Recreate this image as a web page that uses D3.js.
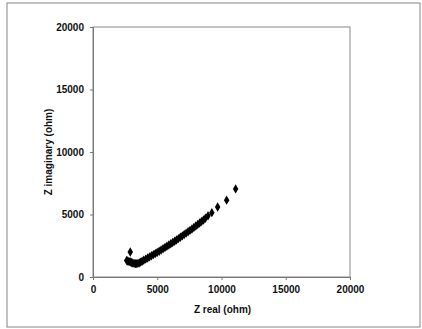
<!DOCTYPE html>
<html>
<head>
<meta charset="utf-8">
<script src="https://d3js.org/d3.v7.min.js"></script>
<style>
  body { margin: 0; background: #fff; }
  text { font-family: "Liberation Sans", Arial, sans-serif; font-weight: bold; fill: #111; }
</style>
</head>
<body>
<svg></svg>
<script>
// impedance data (ohm)
var zReal = [11100, 10400, 9700, 9250, 8950, 8750, 8600, 8450, 8300, 8150, 8000, 7850, 7700, 7550, 7400,
             7250, 7100, 6950, 6800, 6650, 6500, 6350, 6200, 6050, 5900, 5750, 5600, 5450, 5300, 5150,
             5000, 4850, 4700, 4550, 4400, 4250, 4100, 3950, 3820, 3700, 3600, 3500, 3400, 3300, 3200,
             3100, 3000, 2900, 2800, 2700, 2620, 2900]
var zImag = [7050, 6150, 5600, 5150, 4900, 4700, 4560, 4440, 4320, 4200, 4080, 3960, 3840, 3730, 3620,
             3510, 3400, 3290, 3180, 3070, 2960, 2860, 2760, 2660, 2560, 2460, 2360, 2260, 2160, 2060,
             1970, 1880, 1790, 1700, 1610, 1520, 1430, 1340, 1260, 1190, 1130, 1090, 1070, 1070, 1090,
             1120, 1160, 1200, 1240, 1280, 1320, 2000]
var xTicks = [0, 5000, 10000, 15000, 20000]
var yTicks = [0, 5000, 10000, 15000, 20000]

var W = 422, H = 329
var plotL = 93, plotT = 27, plotR = 350, plotB = 277

var svg = d3.select("svg").attr("width", W).attr("height", H)

// outer chart frame
svg.append("rect")
    .attr("x", 7).attr("y", 3).attr("width", 413).attr("height", 324)
    .attr("fill", "none").attr("stroke", "#999").attr("stroke-width", 1.2)

var x = d3.scaleLinear().domain([0, 20000]).range([plotL, plotR])
var y = d3.scaleLinear().domain([0, 20000]).range([plotB, plotT])

// plot area border
svg.append("rect")
    .attr("x", plotL).attr("y", plotT).attr("width", plotR - plotL).attr("height", plotB - plotT)
    .attr("fill", "none").attr("stroke", "#888").attr("stroke-width", 1)

var xAxis = svg.append("g")
    .attr("transform", "translate(0," + plotB + ")")
    .call(d3.axisBottom(x).tickValues(xTicks).tickSize(3).tickPadding(6).tickFormat(d3.format("d")))
var yAxis = svg.append("g")
    .attr("transform", "translate(" + plotL + ",0)")
    .call(d3.axisLeft(y).tickValues(yTicks).tickSize(3).tickPadding(6).tickFormat(d3.format("d")))

;[xAxis, yAxis].forEach(function(a) {
    a.select(".domain").attr("stroke", "#777")
    a.selectAll(".tick line").attr("stroke", "#777")
    a.selectAll("text").style("font-size", "10px").style("font-family", "Liberation Sans, Arial, sans-serif")
        .style("font-weight", "bold").attr("fill", "#111")
})

// axis titles
svg.append("text")
    .attr("x", (plotL + plotR) / 2 + 1).attr("y", 313)
    .attr("text-anchor", "middle")
    .style("font-size", "10px")
    .text("Z real (ohm)")

svg.append("text")
    .attr("transform", "translate(52," + ((plotT + plotB) / 2) + ") rotate(-90)")
    .attr("text-anchor", "middle")
    .style("font-size", "10px")
    .text("Z imaginary (ohm)")

// diamond markers
var diamond = d3.symbol().type(d3.symbolDiamond).size(26)
svg.append("g")
    .selectAll("path")
    .data(zReal)
    .join("path")
    .attr("d", diamond)
    .attr("transform", function(d, i) { return "translate(" + x(d) + "," + y(zImag[i]) + ")" })
    .attr("fill", "#000")
</script>
</body>
</html>
